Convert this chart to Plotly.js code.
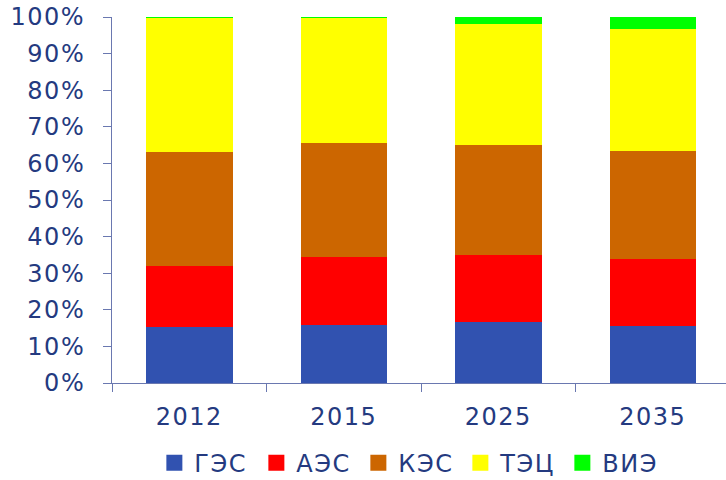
<!DOCTYPE html>
<html>
<head>
<meta charset="utf-8">
<script src="https://cdn.plot.ly/plotly-3.0.1.min.js"></script>
<style>html,body{margin:0;padding:0;background:#fff;}#chart{width:726px;height:480px;}#chart text{letter-spacing:1.5px;}</style>
</head>
<body>
<div id="chart"></div>
<script>
const years = ["2012", "2015", "2025", "2035"];
const seriesNames = ["ГЭС", "АЭС", "КЭС", "ТЭЦ", "ВИЭ"];
const ges = [15.4, 15.9, 16.6, 15.7];
const aes = [16.5, 18.5, 18.4, 18.3];
const kes = [31.1, 31.1, 30.1, 29.5];
const tec = [36.8, 34.3, 33.1, 33.3];
const vie = [0.2, 0.2, 1.8, 3.2];
const yTickVals = [0, 10, 20, 30, 40, 50, 60, 70, 80, 90, 100];
const yTickText = ["0%", "10%", "20%", "30%", "40%", "50%", "60%", "70%", "80%", "90%", "100%"];

const colors = ["#3152B0", "#FF0000", "#CC6600", "#FFFF00", "#00FF00"];
const values = [ges, aes, kes, tec, vie];
const textColor = "#243A80";
const axisColor = "#6A78B0";

const traces = values.map((v, i) => ({
  type: "bar",
  name: seriesNames[i],
  x: years,
  y: v,
  showlegend: false,
  legendgroup: seriesNames[i],
  marker: {color: colors[i], line: {width: 0}},
  hoverinfo: "name+y"
}));
// legend-only entries with larger square swatches
values.forEach((v, i) => {
  traces.push({
    type: "scatter",
    mode: "markers",
    name: seriesNames[i],
    legendgroup: seriesNames[i],
    x: [years[0]],
    y: [null],
    marker: {symbol: "square", size: 16, color: colors[i]},
    showlegend: true
  });
});

const layout = {
  width: 726,
  height: 480,
  barmode: "stack",
  bargap: 0.44,
  paper_bgcolor: "#ffffff",
  plot_bgcolor: "#ffffff",
  margin: {l: 112, r: 0, t: 17, b: 97},
  font: {family: "DejaVu Sans, Verdana, sans-serif", size: 24, color: textColor},
  showlegend: true,
  legend: {
    orientation: "h",
    xref: "paper",
    x: 0.069,
    xanchor: "left",
    yref: "container",
    y: 0.035,
    yanchor: "middle",
    traceorder: "normal",
    font: {size: 24, color: textColor},
    itemwidth: 30,
    entrywidth: 57,
    entrywidthmode: "pixels"
  },
  xaxis: {
    type: "category",
    range: [-0.5, 3.474],
    showline: true,
    linecolor: axisColor,
    linewidth: 1,
    ticks: "outside",
    tickson: "boundaries",
    ticklen: 8,
    tickcolor: axisColor,
    showgrid: false,
    zeroline: false,
    automargin: false,
    ticklabelstandoff: 12,
    tickfont: {size: 24, color: textColor}
  },
  yaxis: {
    range: [0, 100],
    tickvals: yTickVals,
    ticktext: yTickText,
    showline: true,
    linecolor: axisColor,
    linewidth: 1,
    ticks: "outside",
    ticklen: 8,
    tickcolor: axisColor,
    showgrid: false,
    zeroline: false,
    automargin: false,
    ticklabelstandoff: 13,
    tickfont: {size: 24, color: textColor}
  }
};

Plotly.newPlot("chart", traces, layout, {displayModeBar: false, staticPlot: true});
</script>
</body>
</html>
